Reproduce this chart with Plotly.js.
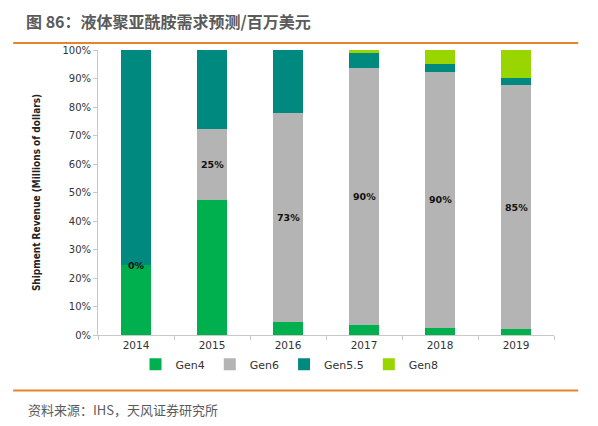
<!DOCTYPE html>
<html>
<head>
<meta charset="utf-8">
<script src="https://cdn.plot.ly/plotly-3.0.1.min.js"></script>
<style>html,body{margin:0;padding:0;background:#fff;}#chart{width:598px;height:426px;}</style>
</head>
<body>
<div id="chart"></div>
<script>
const years = ['2014', '2015', '2016', '2017', '2018', '2019'];
const gen4 = [0.245, 0.474, 0.044, 0.034, 0.024, 0.021];
const gen6 = [0.0, 0.249, 0.736, 0.904, 0.90, 0.856];
const gen55 = [0.755, 0.277, 0.22, 0.05, 0.027, 0.024];
const gen8 = [0.0, 0.0, 0.0, 0.012, 0.049, 0.099];
const gen6Labels = ['0%', '25%', '73%', '90%', '90%', '85%'];
const seriesNames = ['Gen4', 'Gen6', 'Gen5.5', 'Gen8'];
const colors = ['#00b04f', '#b4b4b4', '#00897f', '#99d500'];

const allSeries = [gen4, gen6, gen55, gen8];
const traces = allSeries.map((vals, i) => ({
  type: 'bar',
  name: seriesNames[i],
  x: years,
  y: vals,
  marker: {color: colors[i], line: {width: 0}},
  hoverinfo: 'skip'
}));

const annotations = years.map((yr, i) => ({
  x: i, y: gen4[i] + gen6[i] / 2, xref: 'x', yref: 'y',
  text: '<b>' + gen6Labels[i] + '</b>', showarrow: false,
  font: {family: 'DejaVu Sans', size: 9.5, color: '#111'}
}));
annotations.push({
  xref: 'paper', yref: 'paper', x: -0.162, y: 1.1, xanchor: 'left', yanchor: 'middle',
  text: '<b>图 86：液体聚亚酰胺需求预测/百万美元</b>', showarrow: false,
  font: {family: 'Noto Sans CJK SC', size: 16, color: '#5a5a5a'}
});
annotations.push({
  xref: 'paper', yref: 'paper', x: -0.158, y: -0.26, xanchor: 'left', yanchor: 'middle',
  text: '资料来源：IHS，天风证券研究所', showarrow: false,
  font: {family: 'Noto Sans CJK SC', size: 13, color: '#5a5a5a'}
});

const layout = {
  width: 598, height: 426,
  margin: {l: 98, r: 44, t: 50, b: 91, pad: 0},
  barmode: 'stack',
  bargap: 0.6,
  paper_bgcolor: '#fff', plot_bgcolor: '#fff',
  showlegend: true,
  legend: {orientation: 'h', x: 0.42, xanchor: 'center', y: -0.052, yanchor: 'top',
    font: {family: 'DejaVu Sans', size: 11, color: '#333'}, traceorder: 'normal',
    itemwidth: 30, tracegroupgap: 0},
  xaxis: {
    type: 'category', range: [-0.5, 5.5], showgrid: false, showline: true, linecolor: '#c8c8c8', linewidth: 1,
    ticks: 'outside', tickson: 'boundaries', ticklen: 4, tickcolor: '#c8c8c8',
    tickfont: {family: 'DejaVu Sans', size: 10.5, color: '#333'}, zeroline: false
  },
  yaxis: {
    range: [0, 1], tickformat: '.0%', dtick: 0.1, showgrid: false, showline: true,
    linecolor: '#c8c8c8', linewidth: 1, ticks: 'outside', ticklen: 4, tickcolor: '#c8c8c8',
    tickfont: {family: 'DejaVu Sans', size: 10, color: '#333'}, zeroline: false,
    title: {text: '<b>Shipment Revenue (Millions of dollars)</b>', standoff: 19,
      font: {family: 'Liberation Sans Narrow, DejaVu Sans Condensed', size: 10, color: '#222'}}
  },
  shapes: [
    {type: 'line', xref: 'paper', yref: 'paper', x0: -0.186, x1: 1.053, y0: 1.0246, y1: 1.0246,
      line: {color: '#e8822f', width: 2}},
    {type: 'line', xref: 'paper', yref: 'paper', x0: -0.186, x1: 1.053, y0: -0.195, y1: -0.195,
      line: {color: '#e8822f', width: 2}}
  ],
  annotations: annotations
};

Plotly.newPlot('chart', traces, layout, {staticPlot: true, displayModeBar: false});
</script>
</body>
</html>
